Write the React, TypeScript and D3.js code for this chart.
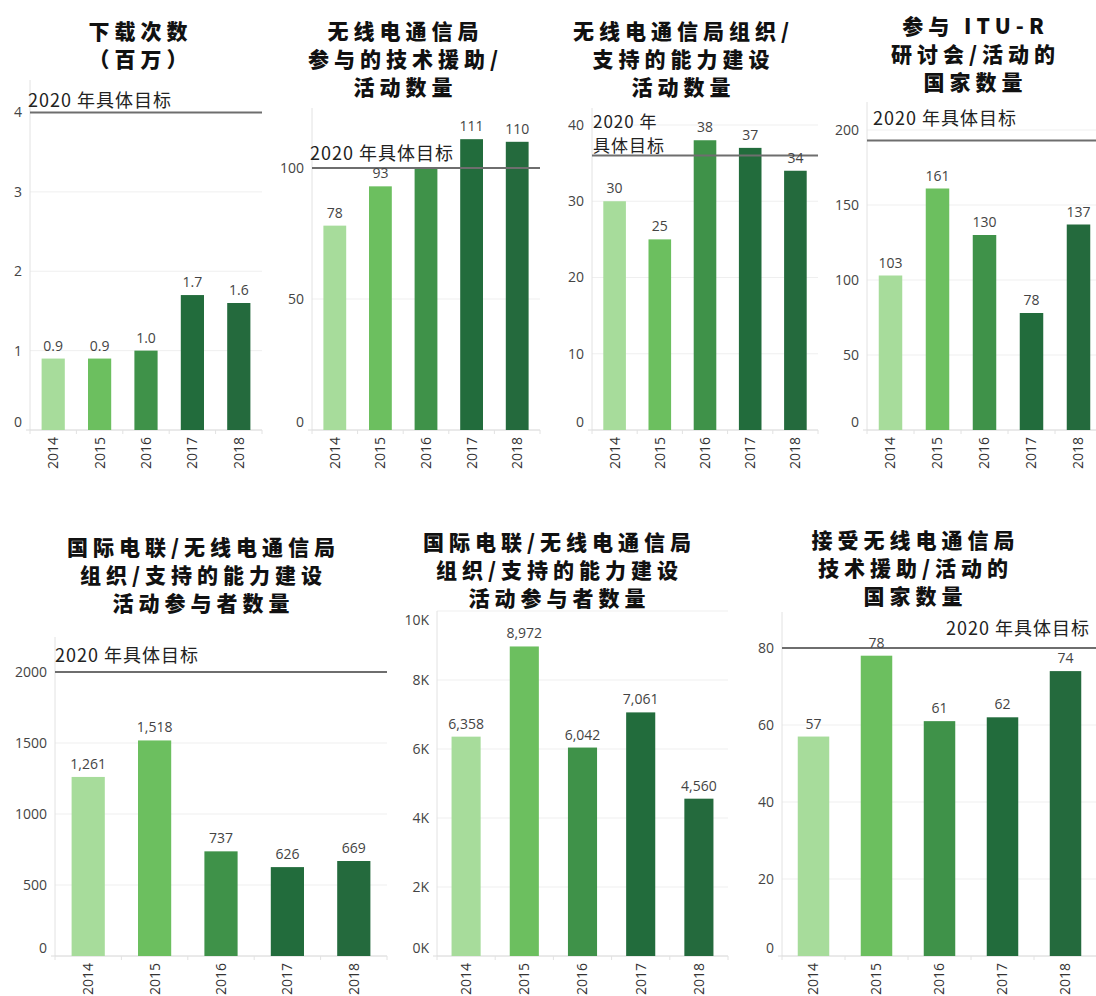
import React from "react";
import * as d3 from "d3";

const years = ["2014", "2015", "2016", "2017", "2018"];
const yearColors = ["#a7dc9b", "#6cbf5f", "#3f9249", "#226c3c", "#246a3d"];

const downloads = [0.9, 0.9, 1.0, 1.7, 1.6];
const bdtAssistance = [78, 93, 100, 111, 110];
const capacityEvents = [30, 25, 38, 37, 34];
const ituRCountries = [103, 161, 130, 78, 137];
const participantsA = [1261, 1518, 737, 626, 669];
const participantsB = [6358, 8972, 6042, 7061, 4560];
const assistedCountries = [57, 78, 61, 62, 74];

const targets: (number | null)[] = [4, 100, 36, 193, 2000, null, 80];

const ticks1 = [0, 1, 2, 3, 4];
const ticks2 = [0, 50, 100];
const ticks3 = [0, 10, 20, 30, 40];
const ticks4 = [0, 50, 100, 150, 200];
const ticks5 = [0, 500, 1000, 1500, 2000];
const ticks6 = [0, 2000, 4000, 6000, 8000, 10000];
const ticks7 = [0, 20, 40, 60, 80];

const titles = [
  ["下载次数", "（百万）"],
  ["无线电通信局", "参与的技术援助/", "活动数量"],
  ["无线电通信局组织/", "支持的能力建设", "活动数量"],
  ["参与 ITU-R", "研讨会/活动的", "国家数量"],
  ["国际电联/无线电通信局", "组织/支持的能力建设", "活动参与者数量"],
  ["国际电联/无线电通信局", "组织/支持的能力建设", "活动参与者数量"],
  ["接受无线电通信局", "技术援助/活动的", "国家数量"],
];
const targetText = ["2020 年具体目标"];
const targetTextSplit = ["2020 年", "具体目标"];

const fmt1 = d3.format(".1f");
const fmtInt = d3.format(",");
const fmtK = (v: number) => `${v / 1000}K`;
const fmtPlain = (v: number) => `${v}`;

type Layout = {
  x0: number; x1: number; y0: number; yMaxPx: number; axisTop: number;
  titleX: number; titleY: number[];
  tl: { x: number; y: number[]; anchor: string; fs: number };
  hide?: number[];
};

const layouts: Layout[] = [
  { x0: 30, x1: 262, y0: 430, yMaxPx: 112.5, axisTop: 80, titleX: 138, titleY: [39, 67], tl: { x: 28, y: [107], anchor: "start", fs: 18 } },
  { x0: 312, x1: 540, y0: 430, yMaxPx: 168, axisTop: 108, titleX: 403, titleY: [39, 67, 95], tl: { x: 310, y: [160], anchor: "start", fs: 18 }, hide: [2] },
  { x0: 592, x1: 818, y0: 430, yMaxPx: 125, axisTop: 108, titleX: 681, titleY: [39, 67, 95], tl: { x: 593, y: [128, 152], anchor: "start", fs: 17 } },
  { x0: 867, x1: 1102, y0: 430, yMaxPx: 130, axisTop: 102, titleX: 973, titleY: [34, 62, 90], tl: { x: 873, y: [125], anchor: "start", fs: 18 } },
  { x0: 55, x1: 387, y0: 956, yMaxPx: 672, axisTop: 637, titleX: 201, titleY: [555, 583, 611], tl: { x: 55, y: [662], anchor: "start", fs: 18 } },
  { x0: 437, x1: 728, y0: 956, yMaxPx: 611, axisTop: 611, titleX: 557, titleY: [550, 578, 606], tl: { x: 0, y: [], anchor: "start", fs: 18 } },
  { x0: 782, x1: 1097, y0: 956, yMaxPx: 648, axisTop: 612, titleX: 913, titleY: [548, 576, 604], tl: { x: 1090, y: [635], anchor: "end", fs: 18 } },
];

const series = [downloads, bdtAssistance, capacityEvents, ituRCountries, participantsA, participantsB, assistedCountries];
const tickSets = [ticks1, ticks2, ticks3, ticks4, ticks5, ticks6, ticks7];
const tickFmts = [fmtPlain, fmtPlain, fmtPlain, fmtPlain, fmtPlain, fmtK, fmtPlain];
const labelFmts = [fmt1, fmtPlain, fmtPlain, fmtPlain, fmtInt, fmtInt, fmtPlain];
const targetLines = [targetText, targetText, targetTextSplit, targetText, targetText, [], targetText];

const numFont = "'Open Sans', 'Noto Sans', sans-serif";
const cjkFont = "'Noto Sans CJK SC', 'Noto Sans', sans-serif";
const TITLE_LS = 5;
const TITLE_FS = 21;

function Panel({ i }: { i: number }) {
  const L = layouts[i];
  const values = series[i];
  const ticks = tickSets[i];
  const maxTick = ticks[ticks.length - 1];
  const x = d3.scaleBand<string>().domain(years).range([L.x0, L.x1]).paddingInner(0.5).paddingOuter(0.25);
  const y = d3.scaleLinear().domain([0, maxTick]).range([L.y0, L.yMaxPx]);
  const target = targets[i];
  const boundaries = d3.range(years.length + 1).map((k) => L.x0 + k * ((L.x1 - L.x0) / years.length));
  return (
    <g>
      {titles[i].map((t, k) => (
        <text key={"t" + k} x={L.titleX + TITLE_LS / 2} y={L.titleY[k]} textAnchor="middle"
          fontFamily={cjkFont} fontWeight={900} fontSize={TITLE_FS} letterSpacing={TITLE_LS} fill="#111">{t}</text>
      ))}
      {ticks.map((t) => (
        <line key={"g" + t} x1={L.x0} x2={L.x1} y1={y(t)} y2={y(t)} stroke="#efefef" strokeWidth={1} />
      ))}
      <line x1={L.x0} x2={L.x0} y1={L.axisTop} y2={L.y0} stroke="#e2e2e2" strokeWidth={1} />
      <line x1={L.x0 - 4} x2={L.x1} y1={L.y0} y2={L.y0} stroke="#dcdcdc" strokeWidth={1} />
      {boundaries.map((bx, k) => (
        <line key={"xt" + k} x1={bx} x2={bx} y1={L.y0} y2={L.y0 + 4} stroke="#e2e2e2" />
      ))}
      {ticks.map((t) => {
        const ty = Math.max(L.axisTop + 9, Math.min(L.y0 - 8, y(t)));
        return (
          <text key={"tl" + t} x={L.x0 - 8} y={ty} dy="0.35em" textAnchor="end"
            fontFamily={numFont} fontSize={14} fill="#444">{tickFmts[i](t)}</text>
        );
      })}
      {values.map((v, k) => (
        <rect key={"b" + k} x={x(years[k])} y={y(v)} width={x.bandwidth()} height={L.y0 - y(v)} fill={yearColors[k]} />
      ))}
      {target !== null && (
        <line x1={L.x0} x2={L.x1} y1={y(target)} y2={y(target)} stroke="#6e6e6e" strokeWidth={2} />
      )}
      {targetLines[i].map((t, k) => (
        <text key={"tt" + k} x={L.tl.x} y={L.tl.y[k]} textAnchor={L.tl.anchor as any}
          fontFamily={cjkFont} fontSize={L.tl.fs} letterSpacing={1} fill="#222">{t}</text>
      ))}
      {values.map((v, k) =>
        L.hide && L.hide.includes(k) ? null : (
          <text key={"l" + k} x={(x(years[k]) as number) + x.bandwidth() / 2} y={y(v) - 8} textAnchor="middle"
            fontFamily={numFont} fontSize={14} fill="#444">{labelFmts[i](v)}</text>
        )
      )}
      {years.map((yr, k) => (
        <text key={"y" + k} transform={`translate(${(x(yr) as number) + x.bandwidth() / 2},${L.y0 + 7}) rotate(-90)`}
          textAnchor="end" dy="0.35em" fontFamily={numFont} fontSize={14} fill="#333">{yr}</text>
      ))}
    </g>
  );
}

export default function App() {
  return (
    <div style={{ position: "absolute", left: 0, top: 0 }}>
      <svg width={1096} height={996} style={{ display: "block", background: "#fff" }}>
        <rect width={1096} height={996} fill="#fff" />
        {layouts.map((_, i) => <Panel key={i} i={i} />)}
      </svg>
    </div>
  );
}
